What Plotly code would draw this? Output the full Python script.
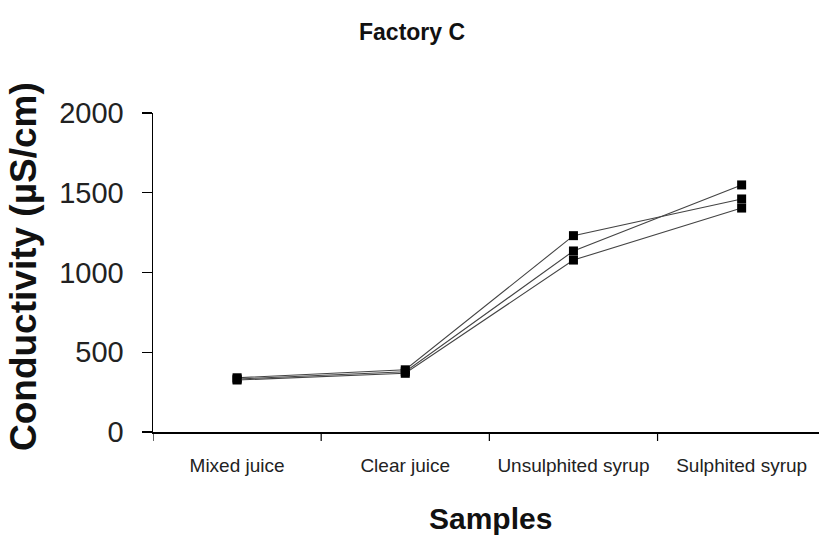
import plotly.graph_objects as go

categories = ["Mixed juice", "Clear juice", "Unsulphited syrup", "Sulphited syrup"]
series_1 = [340, 390, 1231, 1461]
series_2 = [332, 378, 1135, 1549]
series_3 = [326, 368, 1078, 1404]
y_ticks = [0, 500, 1000, 1500, 2000]

ARIAL = "Liberation Sans, Arial, sans-serif"

L, T, B = 153, 113, 106
W, H = 819, 538
pw = W - L
ph = H - T - B

fig = go.Figure()
for s in (series_1, series_2, series_3):
    fig.add_trace(go.Scatter(
        x=list(range(len(categories))), y=s, mode="lines+markers",
        line=dict(color="#444444", width=1.1),
        marker=dict(symbol="square", size=9, color="black"),
        showlegend=False, hoverinfo="skip", cliponaxis=False))

def px_x(x):
    return (x - L) / pw

def px_y(y_top):
    return (H - y_top - B) / ph

fig.update_layout(
    width=W, height=H,
    margin=dict(l=L, r=0, t=T, b=B, autoexpand=False),
    paper_bgcolor="white", plot_bgcolor="white",
    xaxis=dict(
        range=[-0.5, 3.46], tickmode="array", automargin=False,
        tickvals=list(range(len(categories))), ticktext=categories,
        showgrid=False, zeroline=False, showline=True, linecolor="black", linewidth=1.5,
        ticks="", tickfont=dict(family=ARIAL, size=19, color="#222222"),
        ticklabelstandoff=16,
    ),
    yaxis=dict(
        range=[0, 2000], tickmode="array", tickvals=y_ticks, automargin=False,
        showgrid=False, zeroline=False, showline=True, linecolor="black", linewidth=1.5,
        ticks="outside", ticklen=10, tickcolor="black", tickwidth=1.2,
        tickfont=dict(family=ARIAL, size=29, color="#222222"),
        ticklabelstandoff=12,
    ),
    annotations=[
        dict(text="<b>Factory C</b>", x=px_x(412), y=px_y(32), xref="paper", yref="paper",
             xanchor="center", yanchor="middle", showarrow=False,
             font=dict(family=ARIAL, size=23, color="#111111")),
        dict(text="<b>Samples</b>", x=px_x(490), y=px_y(518), xref="paper", yref="paper",
             xanchor="center", yanchor="middle", showarrow=False,
             font=dict(family=ARIAL, size=30, color="#111111")),
        dict(text="<b>Conductivity (µS/cm)</b>", x=px_x(23), y=px_y(267), xref="paper", yref="paper",
             xanchor="center", yanchor="middle", showarrow=False, textangle=-90,
             font=dict(family=ARIAL, size=37, color="#111111")),
    ],
)

# boundary tick marks on the x axis
for xb in (-0.5, 0.5, 1.5, 2.5):
    fig.add_shape(type="line", xref="x", yref="paper", x0=xb, x1=xb, y0=0, y1=-9 / ph,
                  line=dict(color="black", width=1.2))

fig.write_html(
    "out.html",
    config={"displayModeBar": False, "staticPlot": True},
    post_script="document.body.style.margin='0';document.body.style.overflow='hidden';",
)
